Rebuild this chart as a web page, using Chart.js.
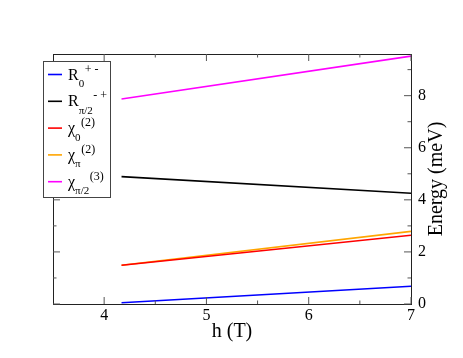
<!DOCTYPE html>
<html>
<head>
<meta charset="utf-8">
<script src="https://cdn.jsdelivr.net/npm/chart.js@4"></script>
<style>
  html, body { margin: 0; padding: 0; background: #fff; }
  #wrap { width: 463px; height: 358px; }
</style>
</head>
<body>
<div id="wrap"><canvas id="energyChart" width="463" height="358"></canvas></div>
<script>
// field values (T) where each branch was computed
const fieldH = [4.17, 7];

// energies (meV)
const R0pm     = [0.05, 0.68];
const Rpi2mp   = [4.89, 4.25];
const chi0_2   = [1.49, 2.64];
const chiPi_2  = [1.49, 2.79];
const chiPi2_3 = [7.87, 9.52];

// axis ticks
const xMajor = [4, 5, 6, 7];
const xMinor = [4.5, 5.5, 6.5];
const yMajor = [0, 2, 4, 6, 8];
const yMinor = [1, 3, 5, 7, 9];

// legend: [main, subscript, superscript, colour]
const legendItems = [
  ["R", "0", "+ -", "#0000ff"],
  ["R", "\u03c0/2", "- +", "#000000"],
  ["\u03c7", "0", "(2)", "#ff0000"],
  ["\u03c7", "\u03c0", "(2)", "#ffa500"],
  ["\u03c7", "\u03c0/2", "(3)", "#ff00ff"]
];

const serif = "Liberation Serif";

function toXY(arr) {
  return arr.map((v, i) => ({ x: fieldH[i], y: v }));
}

function line(data, color) {
  return {
    data: toXY(data),
    borderColor: color,
    borderWidth: 1.6,
    pointRadius: 0,
    tension: 0
  };
}

/*
  Frame, inward ticks on all four sides, axis titles and the
  boxed legend with sub/superscripts are drawn here.
*/
const decor = {
  id: "decor",
  afterDatasetsDraw(chart) {
    const ctx = chart.ctx;
    const a = chart.chartArea;
    const xs = chart.scales.x, ys = chart.scales.y;

    ctx.save();
    ctx.strokeStyle = "#222";
    ctx.lineWidth = 1;
    ctx.strokeRect(a.left + 0.5, a.top + 0.5, a.right - a.left, a.bottom - a.top);

    ctx.strokeStyle = "#555";
    ctx.beginPath();
    const xt = (v, len) => {
      const px = xs.getPixelForValue(v);
      ctx.moveTo(px, a.bottom); ctx.lineTo(px, a.bottom - len);
      ctx.moveTo(px, a.top);    ctx.lineTo(px, a.top + len);
    };
    const yt = (v, len) => {
      const py = ys.getPixelForValue(v);
      ctx.moveTo(a.left, py);  ctx.lineTo(a.left + len, py);
      ctx.moveTo(a.right, py); ctx.lineTo(a.right - len, py);
    };
    xMajor.forEach(v => xt(v, 7));
    xMinor.forEach(v => xt(v, 3.5));
    yMajor.forEach(v => yt(v, 7));
    yMinor.forEach(v => yt(v, 3.5));
    ctx.stroke();

    // axis titles
    ctx.fillStyle = "#000";
    ctx.font = "20px '" + serif + "'";
    ctx.textAlign = "center";
    ctx.textBaseline = "alphabetic";
    ctx.fillText("h (T)", (a.left + a.right) / 2, 337);

    ctx.translate(442, (a.top + a.bottom) / 2);
    ctx.rotate(-Math.PI / 2);
    ctx.fillText("Energy (meV)", 0, 0);
    ctx.restore();
  },
  afterDraw(chart) {
    const ctx = chart.ctx;
    ctx.save();
    // legend box
    ctx.fillStyle = "#fff";
    ctx.fillRect(43, 61, 68, 136);
    ctx.strokeStyle = "#444";
    ctx.lineWidth = 1;
    ctx.strokeRect(43.5, 61.5, 67, 136);

    legendItems.forEach((it, i) => {
      const cy = 74.5 + i * 26.8;
      ctx.strokeStyle = it[3];
      ctx.lineWidth = 1.6;
      ctx.beginPath();
      ctx.moveTo(48, cy); ctx.lineTo(62, cy);
      ctx.stroke();

      ctx.fillStyle = "#000";
      ctx.textAlign = "left";
      ctx.textBaseline = "alphabetic";
      let x = 68;
      ctx.font = "16px '" + serif + "'";
      ctx.fillText(it[0], x, cy + 5);
      x += ctx.measureText(it[0]).width;
      ctx.font = "11px '" + serif + "'";
      ctx.fillText(it[1], x, cy + 12.5);
      x += ctx.measureText(it[1]).width + 0.5;
      ctx.font = "12px '" + serif + "'";
      ctx.fillText(it[2], x, cy - 2);
    });
    ctx.restore();
  }
};

new Chart(document.getElementById("energyChart"), {
  type: "line",
  data: {
    datasets: [
      line(R0pm, "#0000ff"),
      line(Rpi2mp, "#000000"),
      line(chi0_2, "#ff0000"),
      line(chiPi_2, "#ffa500"),
      line(chiPi2_3, "#ff00ff")
    ]
  },
  options: {
    responsive: false,
    animation: false,
    layout: { padding: { left: 53, top: 54, right: 0, bottom: 0 } },
    plugins: {
      legend: { display: false },
      tooltip: { enabled: false }
    },
    scales: {
      x: {
        type: "linear",
        min: 3.5,
        max: 7,
        grid: { display: false },
        border: { display: false },
        afterBuildTicks: s => { s.ticks = xMajor.map(v => ({ value: v })); },
        afterFit: s => { s.height = 54; },
        ticks: {
          color: "#000",
          padding: -6,
          maxRotation: 0,
          font: { family: "'" + serif + "'", size: 16 }
        }
      },
      y: {
        type: "linear",
        position: "right",
        min: 0,
        max: 9.6,
        grid: { display: false },
        border: { display: false },
        afterBuildTicks: s => { s.ticks = yMajor.map(v => ({ value: v })); },
        afterFit: s => { s.width = 52; },
        ticks: {
          color: "#000",
          padding: -1,
          font: { family: "'" + serif + "'", size: 16 }
        }
      }
    }
  },
  plugins: [decor]
});
</script>
</body>
</html>
